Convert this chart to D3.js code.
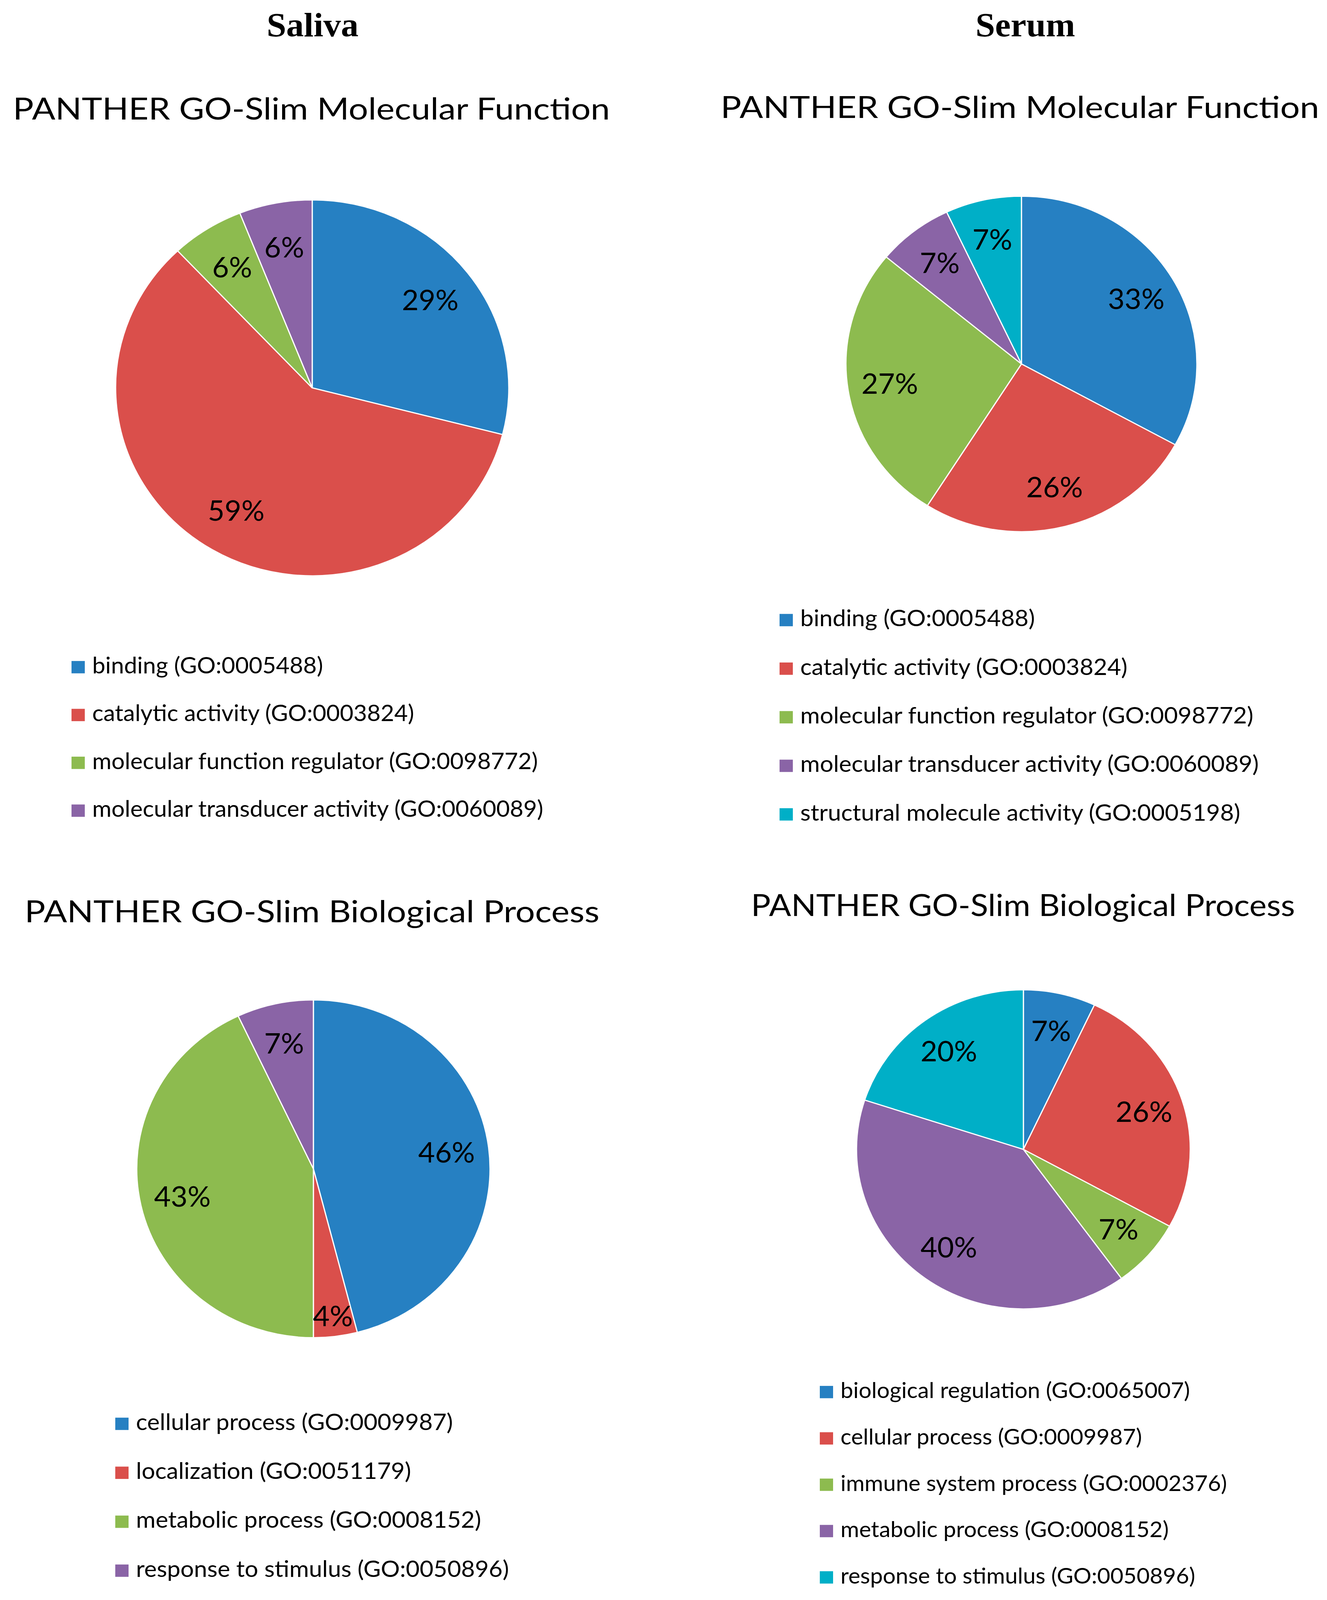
<!DOCTYPE html>
<html>
<head>
<meta charset="utf-8">
<script src="https://cdnjs.cloudflare.com/ajax/libs/d3/7.8.5/d3.min.js"></script>
<style>
	html, body { margin: 0; padding: 0; width: 100%; height: 100%; overflow: hidden; background: #ffffff; }
	svg { display: block; width: 100vw; height: 100vh; }
</style>
</head>
<body>
<svg id="chart" viewBox="0 0 3396 4282" preserveAspectRatio="none"></svg>
<script>
'use strict';

	var arrayColumnTitles = ['Saliva', 'Serum'];
	var arrayPanelTitles = [
		'PANTHER GO-Slim Molecular Function',
		'PANTHER GO-Slim Molecular Function',
		'PANTHER GO-Slim Biological Process',
		'PANTHER GO-Slim Biological Process'];

	var arraySalivaFunctionNames = [
		'binding (GO:0005488)',
		'catalytic activity (GO:0003824)',
		'molecular function regulator (GO:0098772)',
		'molecular transducer activity (GO:0060089)'];
	var arraySalivaFunctionValues = [29, 59, 6, 6];

	var arraySerumFunctionNames = [
		'binding (GO:0005488)',
		'catalytic activity (GO:0003824)',
		'molecular function regulator (GO:0098772)',
		'molecular transducer activity (GO:0060089)',
		'structural molecule activity (GO:0005198)'];
	var arraySerumFunctionValues = [33, 26, 27, 7, 7];

	var arraySalivaProcessNames = [
		'cellular process (GO:0009987)',
		'localization (GO:0051179)',
		'metabolic process (GO:0008152)',
		'response to stimulus (GO:0050896)'];
	var arraySalivaProcessValues = [46, 4, 43, 7];

	var arraySerumProcessNames = [
		'biological regulation (GO:0065007)',
		'cellular process (GO:0009987)',
		'immune system process (GO:0002376)',
		'metabolic process (GO:0008152)',
		'response to stimulus (GO:0050896)'];
	var arraySerumProcessValues = [7, 26, 7, 40, 20];

	var arrayColors = ['#2680c2', '#da4f4b', '#8dbb4f', '#8a64a6', '#00afc7'];

	var strSans = 'Lato, "Open Sans", sans-serif';

	// layout in page pixels (viewBox is the 3396 x 4282 page)
	var arrayPanels = [
		{
			names: arraySalivaFunctionNames, values: arraySalivaFunctionValues, title: arrayPanelTitles[0],
			titleX: 33, titleY: 320, titleWidth: 1528, titleSize: 80,
			cx: 799, cy: 1038, r: 503,
			legendX: 183, legendY: 1802, legendStep: 128, legendSize: 60
		},
		{
			names: arraySerumFunctionNames, values: arraySerumFunctionValues, title: arrayPanelTitles[1],
			titleX: 1844, titleY: 316, titleWidth: 1532, titleSize: 80,
			cx: 2614, cy: 974, r: 449,
			legendX: 1995, legendY: 1676, legendStep: 130, legendSize: 61
		},
		{
			names: arraySalivaProcessNames, values: arraySalivaProcessValues, title: arrayPanelTitles[2],
			titleX: 63, titleY: 2468, titleWidth: 1471, titleSize: 82,
			cx: 802, cy: 3128, r: 452,
			legendX: 295, legendY: 3827, legendStep: 131, legendSize: 61
		},
		{
			names: arraySerumProcessNames, values: arraySerumProcessValues, title: arrayPanelTitles[3],
			titleX: 1922, titleY: 2451, titleWidth: 1392, titleSize: 82,
			cx: 2619, cy: 3076, r: 427,
			legendX: 2098, legendY: 3742, legendStep: 124, legendSize: 58
		}
	];

	var svg = d3.select('#chart');

	svg.selectAll('text.column')
		.data(arrayColumnTitles)
		.enter()
		.append('text')
			.attr('class', 'column')
			.attr('x', function(strTitle, nIndex) { return nIndex == 0 ? 800 : 2624; })
			.attr('y', 97)
			.attr('text-anchor', 'middle')
			.style('font-family', '"Liberation Serif", "Times New Roman", serif')
			.style('font-weight', 'bold')
			.style('font-size', '90px')
			.text(function(strTitle) { return strTitle; });

	var pie = d3.pie()
		.sort(null)
		.value(function(nValue) { return nValue; });

	arrayPanels.forEach(function(panel)
	{
		var g = svg.append('g');

		g.append('text')
			.attr('x', panel.titleX)
			.attr('y', panel.titleY)
			.attr('textLength', panel.titleWidth)
			.attr('lengthAdjust', 'spacingAndGlyphs')
			.style('font-family', strSans)
			.style('font-size', panel.titleSize + 'px')
			.style('fill', '#000')
			.text(panel.title);

		var arc = d3.arc()
			.innerRadius(0)
			.outerRadius(panel.r);

		var arrayArcs = pie(panel.values);

		var gPie = g.append('g')
			.attr('transform', 'translate(' + panel.cx + ',' + panel.cy + ')');

		gPie.selectAll('path')
			.data(arrayArcs)
			.enter()
			.append('path')
				.attr('d', arc)
				.attr('fill', function(d, nIndex) { return arrayColors[nIndex]; })
				.attr('stroke', '#ffffff')
				.attr('stroke-width', 3);

		gPie.selectAll('text')
			.data(arrayArcs)
			.enter()
			.append('text')
				.attr('transform', function(d)
				{
					// small slices get their label pushed towards the rim
					var fRadius = panel.r * (d.data < 5 ? 0.88 : 0.76);
					var arcLabel = d3.arc().innerRadius(fRadius).outerRadius(fRadius);
					return 'translate(' + arcLabel.centroid(d) + ')';
				})
				.attr('text-anchor', 'middle')
				.attr('dy', '0.36em')
				.style('font-family', strSans)
				.style('font-size', '74px')
				.style('fill', '#000')
				.text(function(d) { return d.data + '%'; });

		var gItem = g.append('g').selectAll('g')
			.data(panel.names)
			.enter()
			.append('g')
				.attr('transform', function(strName, nIndex)
				{
					return 'translate(' + panel.legendX + ',' + (panel.legendY + nIndex * panel.legendStep) + ')';
				});

		gItem.append('rect')
			.attr('x', 0)
			.attr('y', -33)
			.attr('width', 34)
			.attr('height', 33)
			.attr('fill', function(strName, nIndex) { return arrayColors[nIndex]; });

		gItem.append('text')
			.attr('x', 53)
			.attr('y', 0)
			.style('font-family', strSans)
			.style('font-size', panel.legendSize + 'px')
			.style('fill', '#000')
			.text(function(strName) { return strName; });
	});
</script>
</body>
</html>
